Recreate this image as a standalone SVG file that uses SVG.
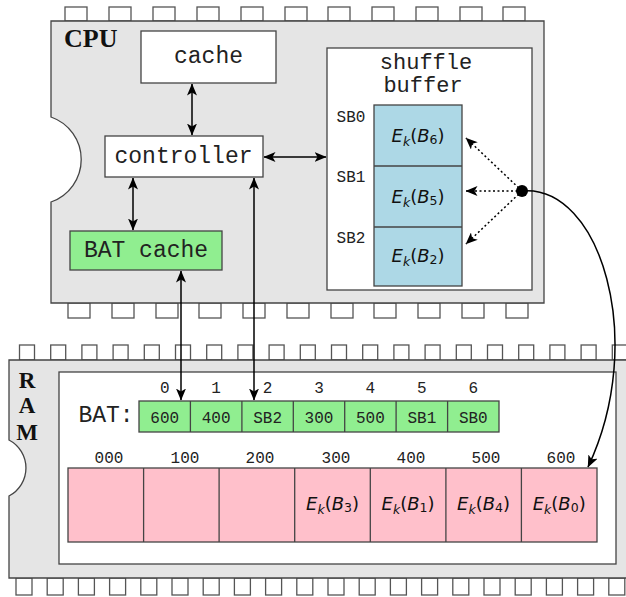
<svg xmlns="http://www.w3.org/2000/svg" width="626" height="597" viewBox="0 0 626 597">
<style>
.pin{fill:#fff;stroke:#555;stroke-width:1.3}
.chip{fill:#e5e5e5;stroke:#444;stroke-width:1.3}
.box{stroke:#444;stroke-width:1.3}
.mono{font-family:"Liberation Mono","DejaVu Sans Mono",monospace;fill:#222;text-anchor:middle}
.big{font-size:23px}
.mid{font-size:22px}
.sm{font-size:16px}
.lbl{font-family:"Liberation Serif","Times New Roman",serif;font-weight:bold;fill:#111}
.m{font-family:"DejaVu Sans",sans-serif;font-size:18px;fill:#111;text-anchor:middle}
.i{font-style:italic}
.s{font-size:12.5px}
.con{stroke:#000;stroke-width:1.5;fill:none}
.dot{stroke-dasharray:2 2.5}
</style>
<defs>
<marker id="ah" viewBox="0 0 12 10" refX="11.5" refY="5" markerWidth="12" markerHeight="10" markerUnits="userSpaceOnUse" orient="auto-start-reverse">
<path d="M0,0 L12,5 L0,10 L3,5 Z" fill="#000"/>
</marker>
</defs>

<g id="cpu">
<g>
<rect class="pin" x="65" y="7" width="22" height="14"/>
<rect class="pin" x="109" y="7" width="22" height="14"/>
<rect class="pin" x="153" y="7" width="22" height="14"/>
<rect class="pin" x="197" y="7" width="22" height="14"/>
<rect class="pin" x="241" y="7" width="22" height="14"/>
<rect class="pin" x="285" y="7" width="22" height="14"/>
<rect class="pin" x="328" y="7" width="22" height="14"/>
<rect class="pin" x="372" y="7" width="22" height="14"/>
<rect class="pin" x="416" y="7" width="22" height="14"/>
<rect class="pin" x="460" y="7" width="22" height="14"/>
<rect class="pin" x="503" y="7" width="22" height="14"/>
<rect class="pin" x="68" y="303" width="22" height="15"/>
<rect class="pin" x="112" y="303" width="22" height="15"/>
<rect class="pin" x="156" y="303" width="22" height="15"/>
<rect class="pin" x="199" y="303" width="22" height="15"/>
<rect class="pin" x="243" y="303" width="22" height="15"/>
<rect class="pin" x="287" y="303" width="22" height="15"/>
<rect class="pin" x="331" y="303" width="22" height="15"/>
<rect class="pin" x="374" y="303" width="22" height="15"/>
<rect class="pin" x="418" y="303" width="22" height="15"/>
<rect class="pin" x="462" y="303" width="22" height="15"/>
<rect class="pin" x="506" y="303" width="22" height="15"/>
</g>
<path class="chip" d="M51,21 H544 V303 H51 V202 A45,45 0 0 0 51,117 Z"/>
<text class="lbl" x="64" y="47" font-size="26">CPU</text>
</g>

<g id="cache">
<rect class="box" x="141" y="31" width="135" height="52" fill="#fff"/>
<text class="mono big" x="208.5" y="63">cache</text>
</g>

<g id="controller">
<rect class="box" x="105" y="136" width="158" height="41" fill="#fff"/>
<text class="mono big" x="183.5" y="163">controller</text>
</g>

<g id="bat-cache">
<rect class="box" x="70" y="231" width="152" height="39" fill="#90ee90"/>
<text class="mono big" x="146" y="257">BAT cache</text>
</g>

<g id="shuffle-buffer">
<rect class="box" x="327" y="48" width="205" height="242" fill="#fff"/>
<text class="mono mid" x="426" y="69">shuffle</text>
<text class="mono mid" x="423" y="92">buffer</text>
<rect class="box" x="374" y="105" width="88" height="181" fill="#add8e6"/>
<line class="box" x1="374" y1="166" x2="462" y2="166"/>
<line class="box" x1="374" y1="227" x2="462" y2="227"/>
<text class="mono sm" x="351" y="122">SB0</text>
<text class="mono sm" x="351" y="182">SB1</text>
<text class="mono sm" x="351" y="243">SB2</text>
<text class="m" x="418" y="142"><tspan class="i">E</tspan><tspan class="s i" dy="4">k</tspan><tspan dy="-4">(</tspan><tspan class="i">B</tspan><tspan class="s" dy="2">6</tspan><tspan dy="-2">)</tspan></text>
<text class="m" x="418" y="203"><tspan class="i">E</tspan><tspan class="s i" dy="4">k</tspan><tspan dy="-4">(</tspan><tspan class="i">B</tspan><tspan class="s" dy="2">5</tspan><tspan dy="-2">)</tspan></text>
<text class="m" x="418" y="262"><tspan class="i">E</tspan><tspan class="s i" dy="4">k</tspan><tspan dy="-4">(</tspan><tspan class="i">B</tspan><tspan class="s" dy="2">2</tspan><tspan dy="-2">)</tspan></text>
</g>

<g id="ram">
<g>
<rect class="pin" x="19.5" y="345" width="15" height="15"/>
<rect class="pin" x="50.7" y="345" width="15" height="15"/>
<rect class="pin" x="81.9" y="345" width="15" height="15"/>
<rect class="pin" x="113.1" y="345" width="15" height="15"/>
<rect class="pin" x="144.3" y="345" width="15" height="15"/>
<rect class="pin" x="175.5" y="345" width="15" height="15"/>
<rect class="pin" x="206.7" y="345" width="15" height="15"/>
<rect class="pin" x="237.9" y="345" width="15" height="15"/>
<rect class="pin" x="269.1" y="345" width="15" height="15"/>
<rect class="pin" x="300.3" y="345" width="15" height="15"/>
<rect class="pin" x="331.5" y="345" width="15" height="15"/>
<rect class="pin" x="362.7" y="345" width="15" height="15"/>
<rect class="pin" x="393.9" y="345" width="15" height="15"/>
<rect class="pin" x="425.1" y="345" width="15" height="15"/>
<rect class="pin" x="456.3" y="345" width="15" height="15"/>
<rect class="pin" x="487.5" y="345" width="15" height="15"/>
<rect class="pin" x="518.7" y="345" width="15" height="15"/>
<rect class="pin" x="549.9" y="345" width="15" height="15"/>
<rect class="pin" x="581.1" y="345" width="15" height="15"/>
<rect class="pin" x="612.3" y="345" width="15" height="15"/>
<rect class="pin" x="16" y="578" width="16" height="17"/>
<rect class="pin" x="47.2" y="578" width="16" height="17"/>
<rect class="pin" x="78.4" y="578" width="16" height="17"/>
<rect class="pin" x="109.6" y="578" width="16" height="17"/>
<rect class="pin" x="140.8" y="578" width="16" height="17"/>
<rect class="pin" x="172" y="578" width="16" height="17"/>
<rect class="pin" x="203.2" y="578" width="16" height="17"/>
<rect class="pin" x="234.4" y="578" width="16" height="17"/>
<rect class="pin" x="265.6" y="578" width="16" height="17"/>
<rect class="pin" x="296.8" y="578" width="16" height="17"/>
<rect class="pin" x="328" y="578" width="16" height="17"/>
<rect class="pin" x="359.2" y="578" width="16" height="17"/>
<rect class="pin" x="390.4" y="578" width="16" height="17"/>
<rect class="pin" x="421.6" y="578" width="16" height="17"/>
<rect class="pin" x="452.8" y="578" width="16" height="17"/>
<rect class="pin" x="484" y="578" width="16" height="17"/>
<rect class="pin" x="515.2" y="578" width="16" height="17"/>
<rect class="pin" x="546.4" y="578" width="16" height="17"/>
<rect class="pin" x="577.6" y="578" width="16" height="17"/>
<rect class="pin" x="608.8" y="578" width="16" height="17"/>
</g>
<path class="chip" d="M9,360 H640 V578 H9 V496 A31.6,31.6 0 0 0 9,440 Z"/>
<text class="lbl" x="27" y="388" font-size="23" text-anchor="middle">R</text>
<text class="lbl" x="27" y="413" font-size="23" text-anchor="middle">A</text>
<text class="lbl" x="27" y="440" font-size="23" text-anchor="middle">M</text>
<rect class="box" x="59" y="372" width="557" height="192" fill="#fff"/>
</g>

<g id="bat">
<text class="mono big" x="106" y="422">BAT:</text>
<rect class="box" x="139" y="401" width="360" height="31" fill="#90ee90"/>
<g class="box">
<line x1="190.4" y1="401" x2="190.4" y2="432"/>
<line x1="241.9" y1="401" x2="241.9" y2="432"/>
<line x1="293.3" y1="401" x2="293.3" y2="432"/>
<line x1="344.7" y1="401" x2="344.7" y2="432"/>
<line x1="396.1" y1="401" x2="396.1" y2="432"/>
<line x1="447.6" y1="401" x2="447.6" y2="432"/>
</g>
<g class="mono sm">
<text x="164.7" y="393">0</text>
<text x="216.1" y="393">1</text>
<text x="267.6" y="393">2</text>
<text x="319" y="393">3</text>
<text x="370.4" y="393">4</text>
<text x="421.9" y="393">5</text>
<text x="473.3" y="393">6</text>
<text x="164.7" y="423">600</text>
<text x="216.1" y="423">400</text>
<text x="267.6" y="423">SB2</text>
<text x="319" y="423">300</text>
<text x="370.4" y="423">500</text>
<text x="421.9" y="423">SB1</text>
<text x="473.3" y="423">SB0</text>
</g>
</g>

<g id="memory">
<g class="mono sm">
<text x="109" y="463">000</text>
<text x="185" y="463">100</text>
<text x="260" y="463">200</text>
<text x="336" y="463">300</text>
<text x="411" y="463">400</text>
<text x="486" y="463">500</text>
<text x="561" y="463">600</text>
</g>
<rect class="box" x="68" y="468" width="529" height="74" fill="#ffc0cb"/>
<g class="box">
<line x1="143.6" y1="468" x2="143.6" y2="542"/>
<line x1="219.1" y1="468" x2="219.1" y2="542"/>
<line x1="294.7" y1="468" x2="294.7" y2="542"/>
<line x1="370.3" y1="468" x2="370.3" y2="542"/>
<line x1="445.9" y1="468" x2="445.9" y2="542"/>
<line x1="521.4" y1="468" x2="521.4" y2="542"/>
</g>
<text class="m" x="332.5" y="510"><tspan class="i">E</tspan><tspan class="s i" dy="4">k</tspan><tspan dy="-4">(</tspan><tspan class="i">B</tspan><tspan class="s" dy="2">3</tspan><tspan dy="-2">)</tspan></text>
<text class="m" x="408.1" y="510"><tspan class="i">E</tspan><tspan class="s i" dy="4">k</tspan><tspan dy="-4">(</tspan><tspan class="i">B</tspan><tspan class="s" dy="2">1</tspan><tspan dy="-2">)</tspan></text>
<text class="m" x="483.6" y="510"><tspan class="i">E</tspan><tspan class="s i" dy="4">k</tspan><tspan dy="-4">(</tspan><tspan class="i">B</tspan><tspan class="s" dy="2">4</tspan><tspan dy="-2">)</tspan></text>
<text class="m" x="559.2" y="510"><tspan class="i">E</tspan><tspan class="s i" dy="4">k</tspan><tspan dy="-4">(</tspan><tspan class="i">B</tspan><tspan class="s" dy="2">0</tspan><tspan dy="-2">)</tspan></text>
</g>

<g id="connectors">
<line class="con" x1="192" y1="84" x2="192" y2="135" marker-start="url(#ah)" marker-end="url(#ah)"/>
<line class="con" x1="133" y1="178" x2="133" y2="230" marker-start="url(#ah)" marker-end="url(#ah)"/>
<line class="con" x1="264" y1="157" x2="326" y2="157" marker-start="url(#ah)" marker-end="url(#ah)"/>
<line class="con" x1="181" y1="271" x2="181" y2="400" marker-start="url(#ah)" marker-end="url(#ah)"/>
<line class="con" x1="254" y1="178" x2="254" y2="400" marker-start="url(#ah)" marker-end="url(#ah)"/>
<line class="con dot" x1="522" y1="191" x2="466" y2="138" marker-end="url(#ah)"/>
<line class="con dot" x1="522" y1="191" x2="466" y2="191" marker-end="url(#ah)"/>
<line class="con dot" x1="522" y1="191" x2="466" y2="244" marker-end="url(#ah)"/>
<path class="con" d="M522,191 C600,184 648,340 588,467" marker-end="url(#ah)"/>
<circle cx="522" cy="191" r="6" fill="#000"/>
</g>
</svg>
